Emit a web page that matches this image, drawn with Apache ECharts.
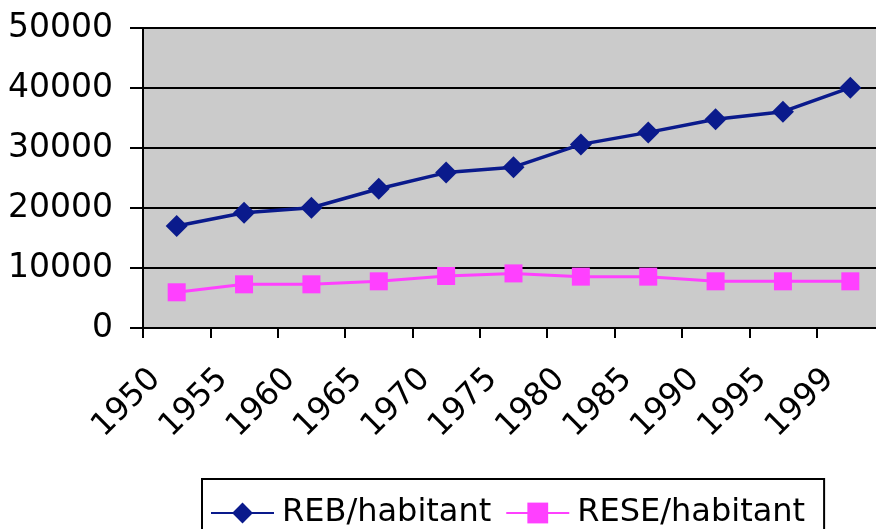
<!DOCTYPE html>
<html>
<head>
<meta charset="utf-8">
<script src="https://cdn.jsdelivr.net/npm/echarts@6/dist/echarts.min.js"></script>
<style>html,body{margin:0;padding:0;background:#fff;}#c{width:876px;height:529px;}</style>
</head>
<body>
<div id="c"></div>
<script>
var categories = ['1950','1955','1960','1965','1970','1975','1980','1985','1990','1995','1999'];
var rebValues = [17000, 19200, 20050, 23200, 25900, 26800, 30600, 32600, 34800, 36050, 40050];
var reseValues = [5950, 7280, 7280, 7780, 8670, 9100, 8560, 8560, 7780, 7780, 7780];
var seriesNames = ['REB/habitant', 'RESE/habitant'];

var chart = echarts.init(document.getElementById('c'), null, {renderer: 'canvas'});
var font = 'DejaVu Sans';
chart.setOption({
  animation: false,
  backgroundColor: '#ffffff',
  grid: {left: 143, width: 741, top: 28, height: 300, containLabel: false, outerBoundsMode: 'none',
         show: true, backgroundColor: '#cbcbcb', borderColor: '#808080', borderWidth: 1},
  legend: {
    left: 202, top: 479,
    data: seriesNames,
    backgroundColor: '#ffffff',
    borderColor: '#000000', borderWidth: 2, borderRadius: 0,
    padding: [18, 19, 14, 8],
    itemWidth: 63, itemHeight: 26, itemGap: 14,
    textStyle: {fontFamily: font, fontSize: 32, color: '#000', padding: [0, 0, 0, 3]}
  },
  xAxis: {
    type: 'category',
    data: categories,
    boundaryGap: true,
    axisLine: {lineStyle: {color: '#000', width: 2}},
    axisTick: {show: true, length: 10, lineStyle: {color: '#000', width: 2}},
    axisLabel: {rotate: 45, margin: 25, padding: [0, 30, 0, 0], fontFamily: font, fontSize: 32, color: '#000', interval: 0, hideOverlap: false}
  },
  yAxis: {
    type: 'value', min: 0, max: 50000, interval: 10000,
    axisLine: {show: true, lineStyle: {color: '#000', width: 2}},
    axisTick: {show: true, length: 13, lineStyle: {color: '#000', width: 2}},
    splitLine: {show: true, lineStyle: {color: '#000', width: 2}},
    axisLabel: {margin: 30, fontFamily: font, fontSize: 33, color: '#000', formatter: function (v) { return String(v); }}
  },
  series: [
    {name: seriesNames[0], type: 'line', data: rebValues, symbol: 'diamond', symbolSize: 22,
     itemStyle: {color: '#0a1a8c'}, lineStyle: {color: '#0a1a8c', width: 3.5}},
    {name: seriesNames[1], type: 'line', data: reseValues, symbol: 'rect', symbolSize: 18,
     itemStyle: {color: '#ff40ff'}, lineStyle: {color: '#ff40ff', width: 3}}
  ]
});
</script>
</body>
</html>
